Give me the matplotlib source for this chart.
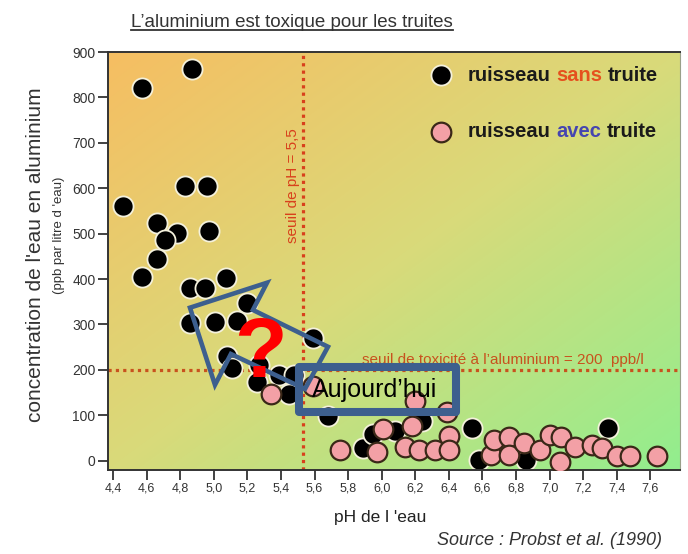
import numpy as np
import matplotlib
matplotlib.use('Agg')
from matplotlib import pyplot as plt
from matplotlib.colors import LinearSegmentedColormap
from matplotlib.patches import Polygon, Rectangle
from matplotlib.lines import Line2D

plt.rcParams['font.family'] = ['Liberation Sans', 'DejaVu Sans']

# ruisseau sans truite (pH, Al ppb)
sans_ph = [4.87, 4.57, 4.83, 4.96, 4.46, 4.66, 4.78, 4.71, 4.97, 4.66, 4.57, 5.07,
           4.86, 4.95, 5.20, 4.86, 5.01, 5.14, 5.08, 5.11, 5.59, 5.27, 5.39, 5.48,
           5.26, 5.45, 5.68, 6.54, 7.35, 6.58, 6.86, 5.89, 5.95, 6.08, 6.24]
sans_al = [862, 820, 605, 605, 562, 524, 502, 486, 506, 444, 404, 402,
           380, 380, 347, 303, 306, 307, 230, 205, 270, 211, 189, 189,
           174, 148, 98, 72, 72, 2, 2, 28, 59, 66, 87]

# ruisseau avec truite
avec_ph = [5.34, 5.59, 5.75, 5.97, 6.01, 6.14, 6.18, 6.20, 6.22, 6.32, 6.39, 6.40,
           6.40, 6.65, 6.67, 6.76, 6.76, 6.85, 6.94, 7.00, 7.07, 7.06, 7.15, 7.25,
           7.31, 7.40, 7.48, 7.64]
avec_al = [148, 164, 24, 20, 70, 31, 77, 132, 24, 24, 108, 54,
           24, 13, 46, 53, 13, 39, 24, 57, 53, -2, 31, 35,
           28, 10, 10, 10]

x_ticks = [4.4, 4.6, 4.8, 5.0, 5.2, 5.4, 5.6, 5.8, 6.0, 6.2, 6.4, 6.6, 6.8, 7.0, 7.2, 7.4, 7.6]
y_ticks = [0, 100, 200, 300, 400, 500, 600, 700, 800, 900]

seuil_ph = 5.53
seuil_al = 200

# annotation overlay (hand drawn arrow + box), in data units
arrow_pts = [(4.858, 337), (5.317, 392), (5.233, 332), (5.68, 251),
             (5.543, 158), (5.102, 235), (5.007, 167)]
box_xy = (5.508, 106.7)
box_w, box_h = 0.937, 99.1

fig = plt.figure(figsize=(6.88, 5.54), dpi=100)
ax = fig.add_axes([0.157, 0.152, 0.831, 0.754])
ax.set_xlim(4.37, 7.775)
ax.set_ylim(-20, 900)

# background gradient: orange top-left -> green bottom-right
cmap = LinearSegmentedColormap.from_list('bg', ['#F6BE62', '#D9DA7A', '#92EE8E'])
u, v = np.meshgrid(np.linspace(0, 1, 200), np.linspace(0, 1, 200))
grad = (u + v) / 2
ax.imshow(grad, cmap=cmap, extent=[0, 1, 0, 1], origin='upper', transform=ax.transAxes,
          aspect='auto', zorder=0, interpolation='bilinear')

# thresholds
ax.axvline(seuil_ph, color='#D8401C', lw=2.3, ls=(0, (1, 1.3)), zorder=1)
ax.axhline(seuil_al, color='#C8521E', lw=2.3, ls=(0, (1, 1.3)), zorder=1)
ax.text(5.47, 605, 'seuil de pH = 5,5', rotation=90, color='#D8401C',
        fontsize=11, ha='center', va='center', zorder=1)
ax.text(6.72, 222, 'seuil de toxicité à l\u2019aluminium = 200  ppb/l', color='#C8521E',
        fontsize=11, ha='center', va='center', zorder=1)

ax.scatter(sans_ph, sans_al, s=210, c='black', edgecolors='#F4F1DC', linewidths=1.3, zorder=2)
ax.scatter(avec_ph, avec_al, s=200, c='#F3A0A6', edgecolors='#3A2818', linewidths=1.6, zorder=3)

# legend drawn by hand
ax.scatter([0.583], [0.945], s=210, c='black', edgecolors='#F4F1DC', linewidths=1.3,
           transform=ax.transAxes, zorder=3, clip_on=False)
ax.scatter([0.583], [0.809], s=200, c='#F3A0A6', edgecolors='#3A2818', linewidths=1.6,
           transform=ax.transAxes, zorder=3, clip_on=False)
for yy, word, col in [(0.945, 'sans', '#E5501E'), (0.809, 'avec', '#4545B0')]:
    t1 = ax.text(0.629, yy, 'ruisseau', transform=ax.transAxes, fontsize=14.5,
                 fontweight='bold', color='#1A1A1A', va='center', zorder=3)
    t2 = ax.annotate(word, xy=(1, 0), xycoords=t1, xytext=(4, 0), textcoords='offset points',
                     fontsize=14.5, fontweight='bold', color=col, va='bottom', zorder=3)
    ax.annotate('truite', xy=(1, 0), xycoords=t2, xytext=(4, 0), textcoords='offset points',
                fontsize=14.5, fontweight='bold', color='#1A1A1A', va='bottom', zorder=3)

# overlay
ax.add_patch(Polygon(arrow_pts, closed=True, fill=False, ec='#3D5F8E', lw=3.3,
                     joinstyle='miter', zorder=4))
ax.text(5.275, 232, '?', color='#FF0000', fontsize=62, fontweight='bold',
        ha='center', va='center', zorder=5)
ax.add_patch(Rectangle(box_xy, box_w, box_h, fill=False, ec='#3D5F8E', lw=5.8,
                       joinstyle='round', zorder=5))
ax.text(5.583, 156, 'Aujourd\u2019hui', fontsize=18, color='black',
        ha='left', va='center', zorder=5)

# axes styling
ax.set_xticks(x_ticks)
ax.set_xticklabels([('%.1f' % t).replace('.', ',') for t in x_ticks])
ax.set_yticks(y_ticks)
ax.tick_params(axis='both', direction='out', length=7, width=1.3, color='#333333',
               labelcolor='#333333', pad=2)
ax.tick_params(axis='x', labelsize=9)
ax.tick_params(axis='y', labelsize=10)
for side in ['left', 'bottom', 'top']:
    ax.spines[side].set_color('#333333')
    ax.spines[side].set_linewidth(1.4)
ax.spines['right'].set_color('#9AA08A')
ax.spines['right'].set_linewidth(0.8)

# labels
fig.text(0.552, 0.066, 'pH de l \'eau', fontsize=12.5, color='#222222', ha='center', va='center')
fig.text(0.962, 0.024, 'Source : Probst et al. (1990)', fontsize=13, style='italic',
         color='#333333', ha='right', va='center')
fig.text(0.052, 0.540, 'concentration de l\'eau en aluminium', rotation=90, fontsize=15,
         color='#333333', ha='center', va='center')
fig.text(0.086, 0.576, '(ppb par litre d \'eau)', rotation=90, fontsize=9.5,
         color='#333333', ha='center', va='center')
title = fig.text(0.424, 0.960, 'L\u2019aluminium est toxique pour les truites', fontsize=13.5,
                 color='#333333', ha='center', va='center')

# underline the title
fig.canvas.draw()
bb = title.get_window_extent().transformed(fig.transFigure.inverted())
fig.add_artist(Line2D([bb.x0, bb.x1], [bb.y0 + 0.002, bb.y0 + 0.002], color='#333333', lw=1.3,
                      transform=fig.transFigure))

fig.savefig('out.png', dpi=100)
